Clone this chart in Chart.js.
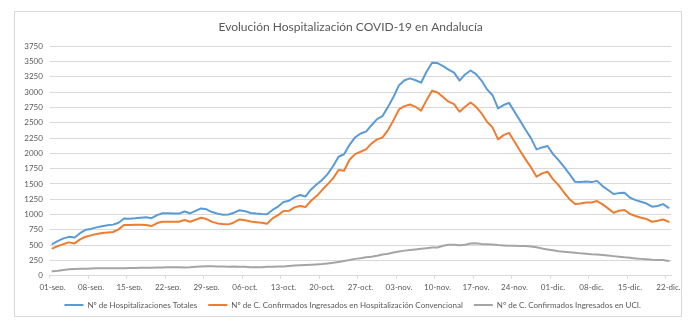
<!DOCTYPE html>
<html lang="es">
<head>
<meta charset="utf-8">
<title>Evolución Hospitalización COVID-19 en Andalucía</title>
<script src="https://cdn.jsdelivr.net/npm/chart.js@4.4.1/dist/chart.umd.min.js"></script>
<style>
  html, body { margin: 0; padding: 0; background: #ffffff; }
  #wrap { position: relative; width: 694px; height: 327px; }
</style>
</head>
<body>
<div id="wrap"><canvas id="graficoHosp" width="694" height="327"></canvas></div>
<script>
// Días desde el 01-sep hasta el 22-dic
const meses = [['sep.', 30], ['oct.', 31], ['nov.', 30], ['dic.', 22]];
const dias = [];
meses.forEach(([mes, n]) => {
  for (let d = 1; d <= n; d++) dias.push(String(d).padStart(2, '0') + '-' + mes);
});

// Nº de hospitalizaciones totales
const hospTotales = [
  520, 570, 610, 635, 625, 695, 750, 765, 790, 810,
  825, 835, 865, 935, 932, 938, 948, 955, 940, 990,
  1020, 1020, 1015, 1015, 1050, 1020, 1060, 1100, 1085, 1040,
  1015, 995, 1000, 1030, 1070, 1055, 1025, 1015, 1008, 1003,
  1075, 1130, 1205, 1225, 1285, 1320, 1295, 1410, 1490, 1565,
  1660, 1790, 1945, 1985, 2140, 2260, 2325, 2355, 2460, 2560,
  2610, 2760, 2925, 3115, 3195, 3225, 3195, 3155, 3335, 3480,
  3475, 3425, 3370, 3320, 3190, 3290, 3355, 3295, 3190, 3045,
  2950, 2735, 2790, 2825, 2680, 2535, 2385, 2245, 2065, 2097,
  2120, 1988, 1890, 1780, 1660, 1535, 1530, 1540, 1530, 1550,
  1465, 1400, 1335, 1350, 1355, 1275, 1235, 1210, 1180, 1128,
  1140, 1170, 1110,
];

// Nº de casos confirmados en hospitalización convencional
const hospConvencional = [
  447, 485, 517, 545, 528, 594, 637, 659, 681, 697,
  708, 714, 757, 828, 828, 833, 833, 828, 812, 860,
  882, 882, 880, 882, 910, 882, 915, 948, 926, 880,
  855, 844, 839, 870, 920, 905, 885, 875, 866, 850,
  937, 991, 1057, 1060, 1117, 1138, 1122, 1225, 1302, 1400,
  1493, 1591, 1727, 1716, 1895, 1988, 2026, 2064, 2162, 2228,
  2260, 2380, 2543, 2718, 2772, 2799, 2761, 2696, 2870, 3023,
  2996, 2920, 2845, 2805, 2680, 2761, 2832, 2761, 2652, 2516,
  2424, 2228, 2298, 2336, 2189, 2042, 1901, 1770, 1618, 1672,
  1700, 1575, 1480, 1360, 1250, 1172, 1182, 1198, 1198, 1220,
  1166, 1100, 1030, 1062, 1073, 1008, 975, 948, 926, 882,
  899, 920, 882,
];

// Nº de casos confirmados ingresados en UCI
const ingresosUCI = [
  71, 80, 92, 105, 110, 112, 115, 118, 120, 120,
  120, 120, 120, 122, 125, 125, 128, 130, 130, 133,
  136, 138, 140, 138, 135, 140, 148, 152, 155, 155,
  152, 150, 148, 150, 148, 145, 140, 138, 140, 145,
  148, 150, 152, 158, 165, 170, 175, 180, 185, 190,
  200, 210, 225, 240, 255, 275, 285, 300, 310, 325,
  345, 360, 380, 395, 410, 420, 430, 440, 450, 460,
  462, 490, 505, 505, 498, 505, 525, 530, 520, 515,
  510, 500, 495, 490, 488, 485, 485, 478, 465, 445,
  430, 415, 400, 392, 385, 375, 365, 360, 350, 345,
  338, 330, 320, 310, 300, 293, 283, 275, 268, 262,
  258, 255, 240,
];

const FUENTE = "Lato, 'Open Sans', 'DejaVu Sans', sans-serif";
const GRIS_TEXTO = '#595959';
const GRIS_LINEA = '#d9d9d9';

// Marco exterior del gráfico
const marcoGrafico = {
  id: 'marcoGrafico',
  beforeDraw(chart) {
    const { ctx } = chart;
    ctx.save();
    ctx.fillStyle = '#ffffff';
    ctx.fillRect(0, 0, chart.width, chart.height);
    ctx.strokeStyle = GRIS_LINEA;
    ctx.lineWidth = 1;
    ctx.strokeRect(14.5, 11.5, 667, 305);
    ctx.restore();
  },
};

// Título y leyenda centrados en el marco, no en el área de trazado
const centrarEnMarco = {
  id: 'centrarEnMarco',
  afterLayout(chart) {
    chart.legend.left += 12;
    chart.legend.right += 12;
    chart.titleBlock.left += 10;
    chart.titleBlock.right += 10;
  },
};

function serie(label, data, color) {
  return {
    label,
    data,
    borderColor: color,
    backgroundColor: color,
    borderWidth: 2,
    borderJoinStyle: 'round',
    borderCapStyle: 'round',
    tension: 0,
    pointRadius: 0,
    pointHoverRadius: 3,
  };
}

const ctx = document.getElementById('graficoHosp').getContext('2d');
const chartHosp = new Chart(ctx, {
  type: 'line',
  data: {
    labels: dias,
    datasets: [
      serie('Nº de Hospitalizaciones Totales', hospTotales, '#5b9bd5'),
      serie('Nº de C. Confirmados Ingresados en Hospitalización Convencional', hospConvencional, '#ed7d31'),
      serie('Nº de C. Confirmados Ingresados en UCI.', ingresosUCI, '#a5a5a5'),
    ],
  },
  options: {
    responsive: false,
    devicePixelRatio: 1,
    animation: false,
    layout: { padding: { top: 0, left: 10, right: 22.7, bottom: 8 } },
    plugins: {
      title: {
        display: true,
        text: 'Evolución Hospitalización COVID-19 en Andalucía',
        color: GRIS_TEXTO,
        font: { family: FUENTE, size: 12, weight: 'normal' },
        padding: { top: 20.3, bottom: 11.6 },
      },
      legend: {
        display: true,
        position: 'bottom',
        labels: {
          usePointStyle: true,
          pointStyle: 'line',
          pointStyleWidth: 19,
          padding: 11,
          color: GRIS_TEXTO,
          font: { family: FUENTE, size: 8 },
        },
      },
      tooltip: { enabled: true },
    },
    scales: {
      x: {
        offset: true,
        afterFit: (scale) => { scale.height = 14.3; },
        grid: {
          display: true,
          drawOnChartArea: false,
          drawTicks: true,
          tickLength: 3,
          offset: true,
          color: (c) => (c.index % 7 === 0 ? GRIS_LINEA : 'rgba(0,0,0,0)'),
        },
        border: { color: GRIS_LINEA, width: 1 },
        ticks: {
          autoSkip: false,
          maxRotation: 0,
          padding: 3.5,
          color: GRIS_TEXTO,
          font: { family: FUENTE, size: 8 },
          callback: (val, i) => (i % 7 === 0 ? dias[i] : ''),
        },
      },
      y: {
        min: 0,
        max: 3750,
        afterFit: (scale) => { scale.width = 39.8; },
        grid: { color: GRIS_LINEA, lineWidth: 1, drawTicks: false },
        border: { display: false },
        ticks: {
          stepSize: 250,
          padding: 7,
          color: GRIS_TEXTO,
          font: { family: FUENTE, size: 8 },
          callback: (val) => String(val),
        },
      },
    },
  },
  plugins: [marcoGrafico, centrarEnMarco],
});
</script>
</body>
</html>
